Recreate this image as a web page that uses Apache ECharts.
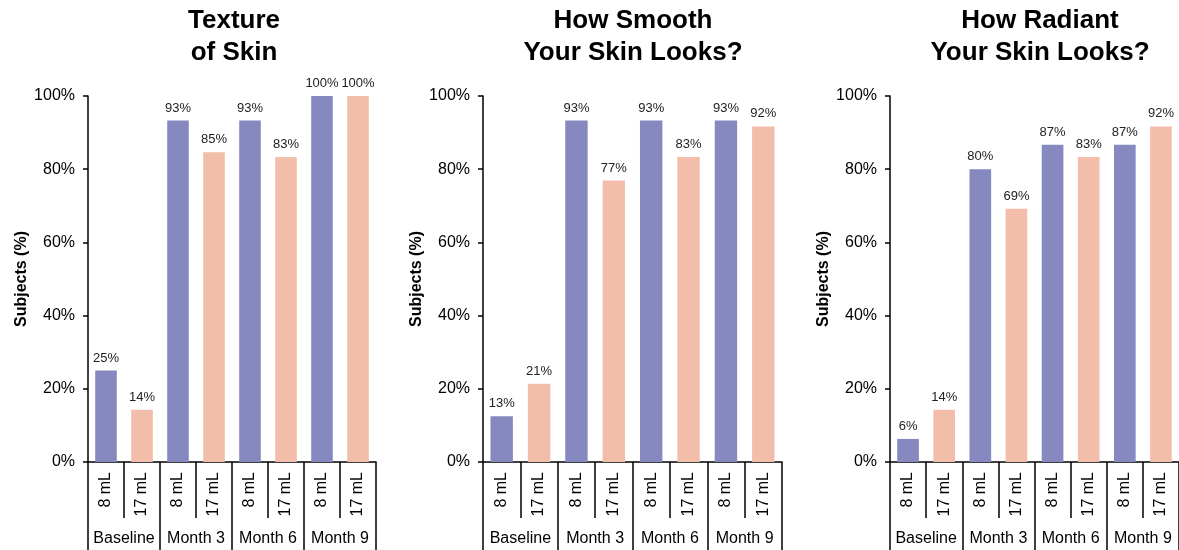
<!DOCTYPE html>
<html>
<head>
<meta charset="utf-8">
<style>
  html, body { margin: 0; padding: 0; background: #fff; }
  #main { width: 1179px; height: 550px; }
</style>
<script src="https://cdn.jsdelivr.net/npm/echarts@6/dist/echarts.min.js"></script>
</head>
<body>
<div id="main"></div>
<script>
// data
var doses = ['8 mL', '17 mL', '8 mL', '17 mL', '8 mL', '17 mL', '8 mL', '17 mL'];
var visits = ['Baseline', 'Month 3', 'Month 6', 'Month 9'];
var yTicks = [0, 20, 40, 60, 80, 100];
var titles = ['Texture\nof Skin', 'How Smooth\nYour Skin Looks?', 'How Radiant\nYour Skin Looks?'];
var textureVals = [25, 14.3, 93.3, 84.6, 93.3, 83.3, 100, 100];
var smoothVals = [12.5, 21.4, 93.3, 76.9, 93.3, 83.3, 93.3, 91.7];
var radiantVals = [6.3, 14.3, 80, 69.2, 86.7, 83.3, 86.7, 91.7];

var colors = ['#8689bf', '#f2bda9'];
var font = 'Liberation Sans, Arial, sans-serif';

// panel positions
var panels = [
    {left: 88, width: 288, titleX: 234, vals: textureVals},
    {left: 483, width: 299, titleX: 633, vals: smoothVals},
    {left: 890, width: 289, titleX: 1040, vals: radiantVals}
];

var grid = [], xAxis = [], yAxis = [], series = [], title = [];
for (var i = 0; i < panels.length; i++) {
    var p = panels[i];
    grid.push({left: p.left, top: 96, width: p.width, height: 366, containLabel: false});
    title.push({
        text: titles[i],
        left: p.titleX,
        top: 5,
        padding: 0,
        textAlign: 'center',
        textStyle: {fontFamily: font, fontSize: 26, fontWeight: 'bold', color: '#000', lineHeight: 32}
    });
    // dose level
    xAxis.push({
        type: 'category', gridIndex: i, position: 'bottom', data: doses,
        axisLine: {lineStyle: {color: '#000', width: 1.5}},
        axisTick: {show: true, interval: 0, length: 56, lineStyle: {color: '#000', width: 1.5}},
        axisLabel: {interval: 0, rotate: 90, margin: 10, fontFamily: font, fontSize: 16, color: '#000'}
    });
    // visit level
    xAxis.push({
        type: 'category', gridIndex: i, position: 'bottom', data: visits,
        axisLine: {show: false},
        axisTick: {show: true, interval: 0, length: 90, lineStyle: {color: '#000', width: 1.5}},
        axisLabel: {interval: 0, margin: 69, fontFamily: font, fontSize: 16, color: '#000'}
    });
    yAxis.push({
        type: 'value', gridIndex: i, min: yTicks[0], max: yTicks[yTicks.length - 1], interval: 20,
        name: 'Subjects (%)', nameLocation: 'middle', nameGap: 58,
        nameTextStyle: {fontFamily: font, fontSize: 16, fontWeight: 'bold', color: '#000'},
        axisLine: {show: true, lineStyle: {color: '#000', width: 1.5}},
        axisTick: {show: true, length: 5, lineStyle: {color: '#000', width: 1.5}},
        axisLabel: {margin: 13, fontFamily: font, fontSize: 16, color: '#000', formatter: '{value}%'},
        splitLine: {show: false}
    });
    series.push({
        type: 'bar', xAxisIndex: i * 2, yAxisIndex: i,
        data: p.vals, barWidth: '60%',
        itemStyle: {
            color: function (params) { return colors[params.dataIndex % 2]; }
        },
        label: {
            show: true, position: 'top', distance: 6,
            fontFamily: font, fontSize: 13, color: '#222',
            formatter: function (params) { return Math.round(params.value) + '%'; }
        }
    });
}

var myChart = echarts.init(document.getElementById('main'));
myChart.setOption({
    animation: false,
    backgroundColor: '#fff',
    title: title,
    grid: grid,
    xAxis: xAxis,
    yAxis: yAxis,
    series: series
});
</script>
</body>
</html>
